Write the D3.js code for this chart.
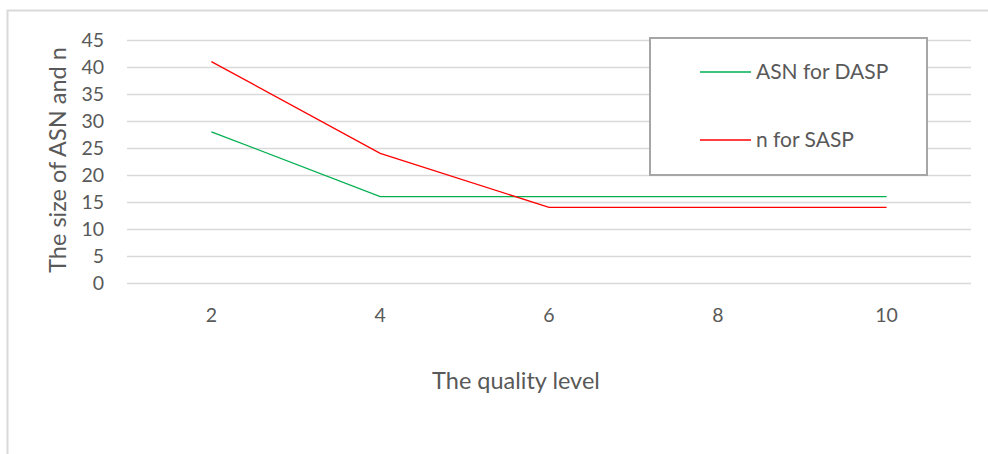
<!DOCTYPE html>
<html><head><meta charset="utf-8">
<script src="https://cdn.jsdelivr.net/npm/d3@7"></script>
<style>body{margin:0;background:#fff}svg{display:block}text{font-family:Lato,"Open Sans",sans-serif;fill:#595959}</style>
</head><body><svg id="c" width="988" height="454"></svg>
<script>
const categories = ["2","4","6","8","10"];
const asnDASP = [28, 16, 16, 16, 16];
const nSASP = [41, 24, 14, 14, 14];
const yTicks = [0,5,10,15,20,25,30,35,40,45];
const seriesNames = ["ASN for DASP","n for SASP"];
const seriesColors = ["#00b050","#ff0000"];

const svg = d3.select("#c");
// chart area border
svg.append("path").attr("d","M7.5,454 V10.5 H988").attr("fill","none").attr("stroke","#d9d9d9").attr("stroke-width",2);

const m = {l:127, r:971, t:40, b:283};
const x = d3.scaleBand().domain(categories).range([m.l, m.r]);
const y = d3.scaleLinear().domain([0,45]).range([m.b, m.t]);

// gridlines
svg.append("g").selectAll("line").data(yTicks).join("line")
  .attr("x1",m.l).attr("x2",m.r)
  .attr("y1",d=>Math.round(y(d))+0.5).attr("y2",d=>Math.round(y(d))+0.5)
  .attr("stroke","#d9d9d9").attr("stroke-width",1.5);

// y axis labels
const ya = svg.append("g").attr("transform",`translate(${m.l-23},0)`)
  .call(d3.axisLeft(y).tickValues(yTicks).tickSize(0).tickPadding(0));
ya.select(".domain").remove();
ya.selectAll("text").style("font-size","19.5px").attr("fill","#595959").style("font-family","Lato,'Open Sans',sans-serif");

// x axis labels
const xa = svg.append("g").attr("transform",`translate(0,${m.b})`)
  .call(d3.axisBottom(x).tickSize(0).tickPadding(25));
xa.select(".domain").remove();
xa.selectAll("text").style("font-size","19.5px").attr("fill","#595959").style("font-family","Lato,'Open Sans',sans-serif");

// lines
const line = d3.line().x((d,i)=>x(categories[i])+x.bandwidth()/2).y(d=>y(d));
[asnDASP, nSASP].forEach((s,k)=>{
  svg.append("path").datum(s).attr("d",line).attr("fill","none")
    .attr("stroke",seriesColors[k]).attr("stroke-width",1.3);
});

// axis titles
svg.append("text").attr("transform","translate(66,160) rotate(-90)").attr("text-anchor","middle")
  .style("font-size","23.5px").text("The size of ASN and n");
svg.append("text").attr("x",516).attr("y",389).attr("text-anchor","middle")
  .style("font-size","23.5px").text("The quality level");

// legend
const lg = svg.append("g");
lg.append("rect").attr("x",650).attr("y",38).attr("width",277).attr("height",137)
  .attr("fill","#fff").attr("stroke","#a6a6a6").attr("stroke-width",2);
const ly = [72, 140];
seriesNames.forEach((n,k)=>{
  lg.append("line").attr("x1",700).attr("x2",751).attr("y1",ly[k]).attr("y2",ly[k])
    .attr("stroke",seriesColors[k]).attr("stroke-width",1.3);
  lg.append("text").attr("x",756).attr("y",ly[k]+7).style("font-size",  "21px").text(n);
});
</script></body></html>
